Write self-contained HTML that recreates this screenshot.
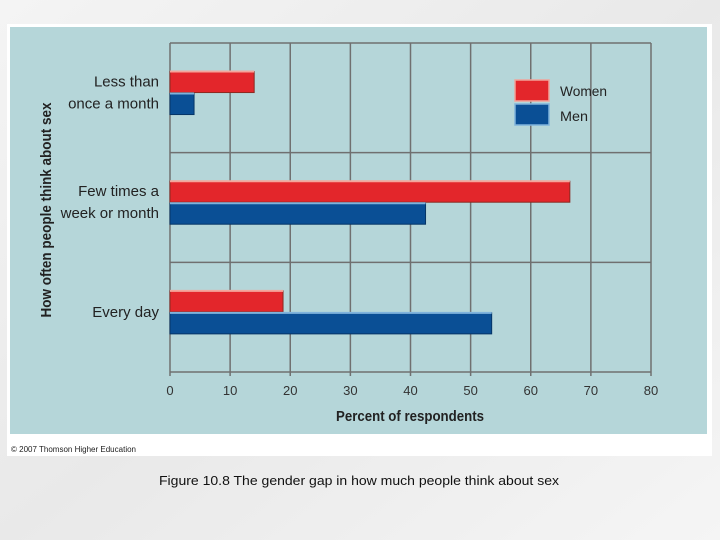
<!DOCTYPE html>
<html><head><meta charset="utf-8"><style>
html,body{margin:0;padding:0;width:720px;height:540px;overflow:hidden;background:#f0f0f0;}
svg{display:block;font-family:"Liberation Sans",sans-serif;}
</style></head><body>
<svg id="chart" width="720" height="540" viewBox="0 0 720 540">
<defs><linearGradient id="bg" x1="0" y1="0" x2="1" y2="1"><stop offset="0" stop-color="#f4f4f4"/><stop offset="0.5" stop-color="#e9e9e9"/><stop offset="1" stop-color="#f5f5f5"/></linearGradient></defs>
<rect width="720" height="540" fill="url(#bg)"/>
<rect x="7" y="24" width="705" height="432" fill="#ffffff"/>
<rect x="10" y="27" width="697" height="407" fill="#b5d6d9"/>
<g id="grid"></g>
<g id="bars"></g>
<g id="labels"></g>
<text x="51" y="210" transform="rotate(-90 51 210)" text-anchor="middle" font-size="15" font-weight="bold" fill="#222" textLength="215" lengthAdjust="spacingAndGlyphs">How often people think about sex</text>
<text x="410" y="421" text-anchor="middle" font-size="15" font-weight="bold" fill="#222" textLength="148" lengthAdjust="spacingAndGlyphs">Percent of respondents</text>
<rect x="515" y="80" width="34" height="21" fill="#e3262b" stroke="#f2a39a" stroke-width="1.5"/>
<text x="560" y="96" font-size="14" fill="#222" textLength="47" lengthAdjust="spacingAndGlyphs">Women</text>
<rect x="515" y="104" width="34" height="21" fill="#0a4f95" stroke="#7fb3dc" stroke-width="1.5"/>
<text x="560" y="121" font-size="14" fill="#222" textLength="28" lengthAdjust="spacingAndGlyphs">Men</text>
<text x="11" y="452" font-size="8" fill="#222" textLength="125" lengthAdjust="spacingAndGlyphs">© 2007 Thomson Higher Education</text>
<text x="359" y="485" text-anchor="middle" font-size="13" fill="#111" textLength="400" lengthAdjust="spacingAndGlyphs">Figure 10.8  The gender gap in how much people think about sex</text>
</svg>
<script>
const categories = ["Less than|once a month", "Few times a|week or month", "Every day"];
const women = [14, 66.5, 18.8];
const men = [4, 42.5, 53.5];
const xTicks = [0, 10, 20, 30, 40, 50, 60, 70, 80];

const NS = "http://www.w3.org/2000/svg";
const X0 = 170, X1 = 651, YT = 43, YB = 372;
const xs = v => X0 + (v / 80) * (X1 - X0);
const bandH = (YB - YT) / categories.length;
const bandY = i => YT + i * bandH;
function mk(tag, attrs, parent) {
  const e = document.createElementNS(NS, tag);
  for (const k in attrs) e.setAttribute(k, attrs[k]);
  parent.appendChild(e);
  return e;
}
const grid = document.getElementById("grid");
const bars = document.getElementById("bars");
const labels = document.getElementById("labels");
xTicks.forEach(t => {
  const l = mk("line", {x1: xs(t), x2: xs(t), y1: YT, y2: YB + 4, stroke: "#707070", "stroke-width": 1.5}, grid);
  
  
  const tx = mk("text", {x: xs(t), y: 395, "text-anchor": "middle", "font-size": 13, fill: "#333"}, labels);
  tx.textContent = t;
  
  
});
for (let i = 0; i <= categories.length; i++) {
  const y = bandY(i);
  const l = mk("line", {x1: X0, x2: X1, y1: y, y2: y, stroke: "#707070", "stroke-width": 1.5}, grid);
  
  
}
categories.forEach((c, i) => {
  const mid = bandY(i) + bandH * 0.47 - 2;
  const rw = mk("rect", {x: X0, y: mid - 21, width: xs(women[i]) - X0, height: 21, fill: "#e3262b", stroke: "#8a2a22", "stroke-width": 1}, bars);
  
  
  mk("line", {x1: X0, x2: xs(women[i]), y1: mid - 21, y2: mid - 21, stroke: "#f4a59b", "stroke-width": 2}, bars);
  const rm = mk("rect", {x: X0, y: mid + 1, width: xs(men[i]) - X0, height: 21, fill: "#0a4f95", stroke: "#063566", "stroke-width": 1}, bars);
  
  
  mk("line", {x1: X0, x2: xs(men[i]), y1: mid + 1, y2: mid + 1, stroke: "#7fb3dc", "stroke-width": 2}, bars);
  const parts = c.split("|");
  parts.forEach((p, j) => {
    const ty = parts.length === 1 ? mid + 5 : mid - 5 + (j * 22) - 1;
    const t = mk("text", {x: 159, y: ty, "text-anchor": "end", "font-size": 15, fill: "#222"}, labels);
    t.textContent = p;
    
    
  });
});
</script>
</body></html>
